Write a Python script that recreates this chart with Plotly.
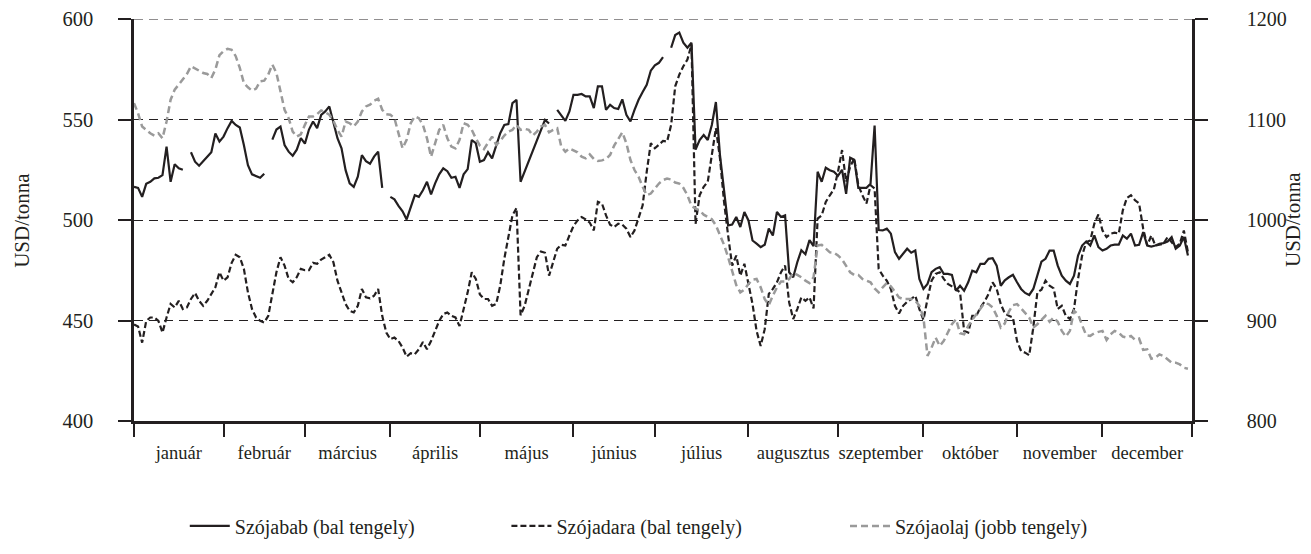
import plotly.graph_objects as go

# ---- data (trading weekdays of 2013, holidays as None for soybean) ----
months = ["január", "február", "március", "április", "május", "június",
          "július", "augusztus", "szeptember", "október", "november", "december"]
days_per_month = [22, 20, 21, 22, 23, 20, 23, 22, 21, 23, 21, 22]

soybean = [516.5, 516, 511.5, 518, 519, 520.7, 521, 522.3, 536.5, 519,
           527.7, 525.7, 525, None, 533.7, 529, 527, 529, 531.5, 533.7,
           543, 539, 541.5, 545.7, 549.3, 547.3, 546, 537.3, 527.3, 522.7,
           522, 521, 523, None, 540, 545, 546.5, 537.3, 534, 532,
           535, 540.7, 538, 545, 549, 545.7, 552.3, 554, 556.5, 549,
           540.7, 535.7, 524.8, 518.2, 516.5, 521.5, 532.3, 529.3, 528, 531.5,
           534, 516, None, 511.5, 510.3, 507, 504.3, 500.3, 506.5, 512.3,
           511.5, 514.8, 519, 512.7, 518.2, 522.7, 525.7, 524.3, 521, 521.5,
           516, 522.7, 525.3, 539.8, 538.2, 529, 529.8, 533.7, 530.7, 536.5,
           543.2, 547.3, 547.7, 558.2, 559.8, 519, 524, 529, 534, 539.8,
           544.8, 549.8, 548, None, 554.8, 552.3, 549.3, 554, 562.3, 562.3,
           562.7, 561.5, 561.5, 555.7, 566.5, 566.5, 554.8, 557.3, 555.7, 555.2,
           560, 552.3, 549, 554.8, 559.8, 563.7, 567.3, 574.3, 577, 578.2,
           581, None, 585.7, 592, 593.2, 588.2, 585.7, 588.2, 535, 539.8,
           542.3, 539.8, 547.3, 558.7, 532.3, 514, 497.3, 497.7, 501.5, 496.5,
           504, 499.8, 489.8, 488.2, 486.5, 487.7, 495.7, 492.3, 504, 501.5,
           502.3, 474, 471.5, 479, 485, 483, 490, 487, 524, 519,
           526, 524.8, 524, 522, 525, 513, 531, 530, 516, 516,
           516, 518, 547, 495, 494.8, 495.7, 493.2, 484, 480.7, 483.2,
           485.7, 483.7, 484.8, 470.7, 465.7, 468.2, 474, 475.7, 476.5, 473.2,
           473.2, 472.7, 464.8, 467.3, 464.8, 469, 474.8, 474, 478.2, 478.2,
           480.7, 481, 477.3, 467.3, 470, 471.5, 472.7, 469, 465.7, 463.7,
           462.7, 465.7, 472.3, 479.3, 480.7, 484.8, 484.8, 477.3, 472.3, 469.8,
           468.2, 472.3, 482.3, 487.3, 489.3, 487.3, 492.3, 486.5, 484.8, 485.7,
           487.3, 487.7, 487.7, 492.3, 490.7, 493.2, 487.3, 487.7, 494, 487.3,
           486.8, 487.3, 488.2, 488.5, 489.3, 491.5, 485.7, 487.3, 491.5, 482.3]

soymeal = [448, 447, 439, 449.8, 451.5, 451.5, 449.8, 444, 451.5, 458.2,
           456.5, 459.8, 455.7, 456.5, 460.7, 463.7, 459.8, 457.3, 459.8, 463.2,
           466.5, 474, 469.8, 471.5, 478.7, 482.7, 481.5, 475.7, 464, 455.7,
           451.5, 449.8, 449, 452.3, 462.3, 474, 481.5, 477.3, 470.7, 469,
           471.5, 475.7, 475, 475, 478.7, 478.2, 480.3, 481.5, 482.7, 479,
           469.8, 464, 458.2, 454.8, 454, 457.3, 465.7, 461.5, 461, 462.3,
           465.7, 452.3, 444, 440.7, 441.5, 439.8, 436.5, 432, 433.7, 433.2,
           435.7, 439.3, 435.7, 439.8, 444.8, 449.8, 453.2, 454, 452.3, 451.5,
           447.3, 455.7, 464, 474, 470.7, 463, 460.7, 460.7, 457.3, 458.2,
           467.3, 480.7, 490.7, 502.3, 506, 452.6, 457.3, 465.7, 474, 481.5,
           484.3, 483.7, 472.3, 479, 485.7, 487.7, 487.3, 492.3, 497, 499.8,
           501.5, 500.3, 498.7, 494.8, 509, 508.2, 502.3, 497.7, 496.5, 498.2,
           497.7, 495.7, 491.5, 494.8, 501.5, 507.3, 524, 538.2, 535.7, 537.3,
           539.3, 539, 547.3, 566.5, 572.3, 576.5, 579.8, 587.3, 498, 512.3,
           516.5, 519, 532.3, 545.7, 530.7, 509, 492.3, 477.3, 482.3, 472.3,
           478.2, 469, 458.2, 444.8, 437.3, 445.7, 463.2, 465.7, 469, 474,
           477.3, 459, 450.7, 455.7, 461.5, 459.8, 461.5, 456, 500.7, 502.3,
           509, 512.3, 515.3, 524, 534.8, 519, 526.5, 530.7, 517.3, 512.3,
           508.2, 517.3, 515.7, 475.7, 472.3, 469.8, 465.7, 457.3, 453.5, 457.3,
           459.3, 460.7, 462.3, 455.7, 450.3, 460.7, 469.8, 473.2, 474, 470.7,
           468.2, 467, 465.7, 464, 444.8, 444, 452.3, 452.3, 456.5, 459.3,
           463.2, 469, 465.7, 458.2, 453.6, 452.3, 451.5, 439.8, 434.8, 434,
           432.7, 446.5, 464, 465.3, 469.8, 467.3, 466, 455.7, 457.3, 452.3,
           450.7, 455.7, 470.7, 482.3, 489, 489.8, 498.2, 502.7, 494.8, 491.5,
           493.2, 493.7, 493.2, 504.8, 511, 512.3, 509.8, 508.2, 495.7, 487.3,
           492.3, 487.3, 487.7, 488.2, 491.5, 489, 486.5, 488.2, 494.8, 484]

soyoil = [1116.3, 1106.3, 1093, 1089.7, 1086.3, 1084, 1086.3, 1081.3, 1098, 1119.7,
          1129.7, 1134.7, 1139.7, 1145.3, 1153, 1150.7, 1148.7, 1146.3, 1145.3, 1141.3,
          1149.7, 1164, 1168, 1170.3, 1169.3, 1163, 1151.3, 1136.3, 1132, 1128.7,
          1130.7, 1138, 1138.7, 1144.7, 1154.7, 1146.3, 1128, 1109.7, 1101.3, 1088,
          1083, 1085.3, 1094.7, 1103, 1103, 1105.3, 1109, 1107.3, 1104.7, 1098.7,
          1089.7, 1083, 1098, 1096.3, 1093, 1098, 1108, 1113, 1114.7, 1118.7,
          1120.7, 1109.7, 1105.3, 1104.7, 1101.3, 1086.3, 1071.3, 1079.7, 1096.3, 1103,
          1101.3, 1094.7, 1081.3, 1063, 1076.3, 1089.7, 1094.7, 1081.3, 1073, 1071.3,
          1079.7, 1096.3, 1094.7, 1089.7, 1081.3, 1074, 1070.5, 1077.3, 1083, 1074.7,
          1078.7, 1084, 1088, 1089.7, 1094.7, 1089.7, 1090.7, 1089.7, 1084, 1088,
          1093, 1094.7, 1087.3, 1089.7, 1091.3, 1073, 1068, 1071.3, 1069.7, 1067.3,
          1063, 1061.3, 1065.3, 1060.7, 1058.7, 1059.3, 1060.7, 1064.7, 1074, 1081.3,
          1087.3, 1076.3, 1059.7, 1049.7, 1043, 1033, 1024.7, 1026.3, 1031.3, 1036.3,
          1039.7, 1041.3, 1040.3, 1037.3, 1036.3, 1032, 1024.7, 1014, 1011.3, 1009.7,
          1005.3, 1003, 1000.7, 994.7, 984.7, 975.3, 963, 948, 935.3, 928,
          930.7, 936.3, 940.7, 941.3, 933, 921.3, 915.3, 924.7, 933, 938.7,
          938.7, 941.3, 947.3, 945.3, 943, 939.7, 937.3, 943, 974.7, 975.3,
          971.3, 967.8, 967.5, 964.7, 960.7, 954, 948, 945.3, 945.3, 941.3,
          939.7, 938, 932, 928, 933, 937.3, 934, 928, 923, 921.3,
          921.3, 921.3, 919.7, 914.7, 903, 864.7, 873, 883, 874.7, 879.7,
          888, 896.3, 901.3, 887.3, 886.3, 894.7, 900.7, 906.3, 911.3, 917.3,
          916.3, 913, 904.7, 893, 897, 909, 915.3, 916.3, 912, 908,
          903, 893, 896.3, 900.7, 904.7, 898.7, 903, 898.7, 889.7, 884,
          889.7, 909.7, 906.3, 895.3, 885.3, 884.7, 887.3, 888.7, 889.7, 880.7,
          886.3, 889.7, 888, 884, 883, 884.7, 880.7, 882, 870.7, 871.3,
          862, 863, 866.3, 864.7, 861.3, 858, 858, 856.3, 853, 852]

# ---- derived x positions ----
n_days = sum(days_per_month)
x = list(range(n_days))
bounds = [0]
for d in days_per_month:
    bounds.append(bounds[-1] + d)
centers = [(bounds[i] + bounds[i + 1]) / 2 for i in range(len(months))]

BLACK = "#231f20"
GREY = "#9a9a9a"
FONT = "Liberation Serif"

fig = go.Figure()
fig.add_trace(go.Scatter(x=x, y=soybean, mode="lines", name="Szójabab (bal tengely)",
                         line=dict(color=BLACK, width=2.2), connectgaps=False,
                         legend="legend"))
fig.add_trace(go.Scatter(x=x, y=soymeal, mode="lines", name="Szójadara (bal tengely)",
                         line=dict(color=BLACK, width=2.2, dash="6px,3px"),
                         legend="legend2"))
fig.add_trace(go.Scatter(x=x, y=soyoil, mode="lines", name="Szójaolaj (jobb tengely)",
                         line=dict(color=GREY, width=2.5, dash="7px,4px"),
                         yaxis="y2", legend="legend3"))

legend_common = dict(orientation="h", yanchor="middle", y=-0.261, xanchor="left",
                     font=dict(family=FONT, size=20, color=BLACK),
                     bgcolor="rgba(0,0,0,0)", itemwidth=40)

# the page body has an 8px margin, so the figure is sized/offset to compensate
fig.update_layout(
    width=1303, height=546,
    margin=dict(l=126, r=119, t=11, b=133, autoexpand=False),
    paper_bgcolor="white", plot_bgcolor="white",
    font=dict(family=FONT, color=BLACK),
    showlegend=True,
    legend=dict(x=0.048, **legend_common),
    legend2=dict(x=0.352, **legend_common),
    legend3=dict(x=0.672, **legend_common),
    xaxis=dict(
        range=[0, n_days], showgrid=False, zeroline=False, automargin=False,
        showline=True, linecolor=BLACK, linewidth=2.5,
        tickmode="array", tickvals=centers, ticktext=months, ticks="",
        tickfont=dict(family=FONT, size=18.5, color=BLACK), ticklabelstandoff=13,
        minor=dict(tickmode="array", tickvals=bounds, ticks="outside",
                   ticklen=13, tickwidth=2, tickcolor=BLACK, showgrid=False),
    ),
    yaxis=dict(
        range=[400, 600], tickvals=[400, 450, 500, 550, 600], automargin=False,
        showline=True, linecolor=BLACK, linewidth=2.5, zeroline=False,
        ticks="outside", ticklen=13, tickwidth=2, tickcolor=BLACK,
        showgrid=True, gridcolor=BLACK, gridwidth=1, griddash="9px,6px",
        tickfont=dict(family=FONT, size=20.5, color=BLACK), ticklabelstandoff=21,
        ticklabeloverflow="allow",
    ),
    yaxis2=dict(
        range=[800, 1200], tickvals=[800, 900, 1000, 1100, 1200], automargin=False,
        overlaying="y", side="right", showgrid=False, zeroline=False,
        showline=True, linecolor=BLACK, linewidth=2.5,
        ticks="outside", ticklen=13, tickwidth=2, tickcolor=BLACK,
        tickfont=dict(family=FONT, size=20, color=BLACK), ticklabelstandoff=35,
        ticklabeloverflow="allow",
    ),
    shapes=[dict(type="line", xref="paper", yref="y", x0=0, x1=1, y0=600, y1=600,
                 line=dict(color=BLACK, width=1, dash="9px,6px"), layer="below")],
    annotations=[
        dict(text="USD/tonna", xref="paper", yref="paper", x=-0.106, y=0.5,
             textangle=-90, showarrow=False, xanchor="center", yanchor="middle",
             font=dict(family=FONT, size=21, color=BLACK)),
        dict(text="USD/tonna", xref="paper", yref="paper", x=1.0955, y=0.5,
             textangle=-90, showarrow=False, xanchor="center", yanchor="middle",
             font=dict(family=FONT, size=21, color=BLACK)),
    ],
)

fig.write_html("out.html")
